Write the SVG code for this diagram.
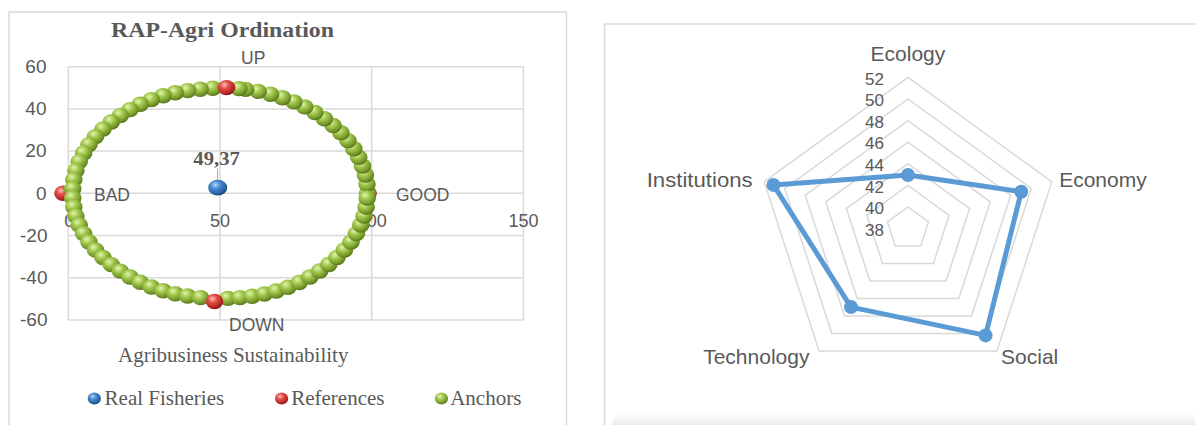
<svg xmlns="http://www.w3.org/2000/svg" xmlns:xlink="http://www.w3.org/1999/xlink" width="1195" height="425" viewBox="0 0 1195 425">
<style>
.frame{fill:#ffffff;stroke:#d9d9d9;stroke-width:1.5}
.grid{fill:none;stroke:#d9d9d9;stroke-width:1.5}
.ring{fill:none;stroke:#d9d9d9;stroke-width:1.5}
.sans{font-family:"Liberation Sans",Arial,sans-serif;fill:#595959}
.serif{font-family:"Liberation Serif","Times New Roman",serif;fill:#595959}
.ytick{font-size:19px;text-anchor:end}
.xtick{font-size:18px;text-anchor:middle}
.pole{font-size:17.5px}
.cat{font-size:21px}
.rtick{font-size:17px;text-anchor:end}
.series{fill:none;stroke:#5b9bd5;stroke-width:5;stroke-linejoin:round}
.dot{fill:#5b9bd5}
</style>
<defs>
<radialGradient id="gG" cx="0.38" cy="0.32" r="0.72">
<stop offset="0" stop-color="#e2f5b0"/>
<stop offset="0.35" stop-color="#a6cb52"/>
<stop offset="0.8" stop-color="#6f9427"/>
<stop offset="1" stop-color="#4e6c16"/>
</radialGradient>
<radialGradient id="gR" cx="0.38" cy="0.32" r="0.72">
<stop offset="0" stop-color="#ffc2b5"/>
<stop offset="0.35" stop-color="#e2504a"/>
<stop offset="0.8" stop-color="#b3221e"/>
<stop offset="1" stop-color="#7a1512"/>
</radialGradient>
<radialGradient id="gB" cx="0.38" cy="0.32" r="0.72">
<stop offset="0" stop-color="#b5d6f7"/>
<stop offset="0.35" stop-color="#4a8ad0"/>
<stop offset="0.8" stop-color="#24609f"/>
<stop offset="1" stop-color="#16406e"/>
</radialGradient>
<linearGradient id="shade" x1="0" y1="0" x2="0" y2="1">
<stop offset="0" stop-color="#ffffff"/>
<stop offset="1" stop-color="#ececec"/>
</linearGradient>
<ellipse id="ga" rx="8.8" ry="7.7" fill="url(#gG)"/>
<ellipse id="gr" rx="8.8" ry="7.7" fill="url(#gR)"/>
</defs>
<rect width="1195" height="425" fill="#ffffff"/>

<!-- LEFT: RAP-Agri Ordination scatter -->
<g id="ordination-chart">
<rect class="frame" x="9" y="12" width="557.5" height="430"/>
<text class="serif" x="111" y="37.3" font-size="22" font-weight="bold" textLength="223" lengthAdjust="spacingAndGlyphs">RAP-Agri Ordination</text>
<g id="grid">
<path class="grid" d="M68.3,66.7H523.4M68.3,108.9H523.4M68.3,151.1H523.4M68.3,193.3H523.4M68.3,235.5H523.4M68.3,277.7H523.4M68.3,319.9H523.4M68.3,66.7V319.9M220,66.7V319.9M371.7,66.7V319.9M523.4,66.7V319.9"/>
</g>
<g id="y-axis" class="sans ytick">
<text x="46.5" y="72.9">60</text>
<text x="46.5" y="115.1">40</text>
<text x="46.5" y="157.3">20</text>
<text x="46.5" y="199.5">0</text>
<text x="47.5" y="241.7">-20</text>
<text x="47.5" y="283.9">-40</text>
<text x="47.5" y="326.1">-60</text>
</g>
<g id="x-axis" class="sans xtick">
<text x="69.3" y="227">0</text>
<text x="220" y="227">50</text>
<text x="371.7" y="227">100</text>
<text x="523.4" y="227">150</text>
</g>
<g id="references-under">
<use href="#gr" x="63" y="193.3"/>
<use href="#gr" x="368" y="193.3"/>
</g>
<g id="anchors">
<use href="#ga" x="367.6" y="193.3"/><use href="#ga" x="367" y="184.1"/><use href="#ga" x="365.4" y="175"/><use href="#ga" x="362.5" y="166"/><use href="#ga" x="358.7" y="157.2"/><use href="#ga" x="353.8" y="148.7"/><use href="#ga" x="347.9" y="140.6"/><use href="#ga" x="340.9" y="132.8"/><use href="#ga" x="333.1" y="125.5"/><use href="#ga" x="324.4" y="118.7"/><use href="#ga" x="314.9" y="112.5"/><use href="#ga" x="304.7" y="106.9"/><use href="#ga" x="293.9" y="101.9"/><use href="#ga" x="282.4" y="97.7"/><use href="#ga" x="270.5" y="94.2"/><use href="#ga" x="258.2" y="91.4"/><use href="#ga" x="245.6" y="89.4"/><use href="#ga" x="239" y="88.6"/>
<use href="#ga" x="212.7" y="88.2"/><use href="#ga" x="200.1" y="89.2"/><use href="#ga" x="187.6" y="90.6"/><use href="#ga" x="175.2" y="92.8"/><use href="#ga" x="163.1" y="95.8"/><use href="#ga" x="151.4" y="99.6"/><use href="#ga" x="140.2" y="104.3"/><use href="#ga" x="130" y="109.6"/><use href="#ga" x="120.3" y="115.5"/><use href="#ga" x="111.2" y="122"/><use href="#ga" x="102.9" y="129.1"/><use href="#ga" x="95.5" y="136.6"/><use href="#ga" x="89" y="144.6"/><use href="#ga" x="83.6" y="153"/><use href="#ga" x="79.2" y="161.6"/><use href="#ga" x="75.9" y="170.5"/><use href="#ga" x="73.8" y="179.6"/><use href="#ga" x="72.7" y="188.7"/>
<use href="#ga" x="72.7" y="198"/><use href="#ga" x="73.8" y="207"/><use href="#ga" x="75.9" y="216.1"/><use href="#ga" x="79.2" y="225"/><use href="#ga" x="83.6" y="233.6"/><use href="#ga" x="89" y="242"/><use href="#ga" x="95.5" y="250"/><use href="#ga" x="102.9" y="257.5"/><use href="#ga" x="111.2" y="264.6"/><use href="#ga" x="120.3" y="271.1"/><use href="#ga" x="130" y="277"/><use href="#ga" x="140.2" y="282.3"/><use href="#ga" x="151.4" y="287"/><use href="#ga" x="163.1" y="290.8"/><use href="#ga" x="175.2" y="293.8"/><use href="#ga" x="187.6" y="296"/><use href="#ga" x="200.5" y="297.6"/>
<use href="#ga" x="227.8" y="298.4"/><use href="#ga" x="239.9" y="297.6"/><use href="#ga" x="252.1" y="296.2"/><use href="#ga" x="264.3" y="294"/><use href="#ga" x="276.2" y="291"/><use href="#ga" x="287.9" y="287.2"/><use href="#ga" x="299.2" y="282.5"/><use href="#ga" x="309.8" y="277"/><use href="#ga" x="319.7" y="271"/><use href="#ga" x="328.8" y="264.5"/><use href="#ga" x="337" y="257.5"/><use href="#ga" x="344.4" y="250"/><use href="#ga" x="351" y="242"/><use href="#ga" x="356.4" y="233.6"/><use href="#ga" x="360.7" y="225"/><use href="#ga" x="364" y="216.1"/><use href="#ga" x="366.1" y="207"/><use href="#ga" x="367.2" y="198"/>
</g>
<g id="references-over">
<use href="#gr" x="226.5" y="87.6"/>
<use href="#gr" x="214.5" y="301.5"/>
</g>
<g id="real-fisheries">
<line x1="217.6" y1="168.5" x2="217.6" y2="181" stroke="#a6a6a6" stroke-width="1"/>
<ellipse cx="217.7" cy="187.7" rx="9.5" ry="7.9" fill="url(#gB)"/>
<text class="serif" x="193.3" y="165" font-size="18" font-weight="bold" textLength="46.5" lengthAdjust="spacingAndGlyphs">49,37</text>
</g>
<g id="pole-labels" class="sans pole">
<text x="241" y="63.8">UP</text>
<text x="94" y="201.2">BAD</text>
<text x="396" y="200.7">GOOD</text>
<text x="229" y="330.7">DOWN</text>
</g>
<text class="serif" x="118" y="362.3" font-size="21">Agribusiness Sustainability</text>
<g id="legend" class="serif" font-size="21">
<ellipse cx="94.3" cy="398.6" rx="6.6" ry="6" fill="url(#gB)"/>
<text x="104.6" y="405">Real Fisheries</text>
<ellipse cx="281.6" cy="398.6" rx="6.6" ry="6" fill="url(#gR)"/>
<text x="291.2" y="405">References</text>
<ellipse cx="441.4" cy="398.6" rx="6.6" ry="6" fill="url(#gG)"/>
<text x="450.2" y="405">Anchors</text>
</g>
</g>

<!-- RIGHT: radar chart -->
<g id="radar-chart">
<path d="M1200,24H604.5V430" fill="#ffffff" stroke="#d9d9d9" stroke-width="1.5"/>
<path d="M611,425 Q614,413 626,412 H1195 V425 Z" fill="url(#shade)"/>
<g id="rings">
<polygon class="ring" points="908,207 928.5,221.9 920.7,246.1 895.3,246.1 887.5,221.9"/>
<polygon class="ring" points="908,185.4 949.1,215.3 933.4,263.5 882.6,263.5 866.9,215.3"/>
<polygon class="ring" points="908,163.8 969.6,208.6 946.1,281 869.9,281 846.4,208.6"/>
<polygon class="ring" points="908,142.2 990.2,201.9 958.8,298.5 857.2,298.5 825.8,201.9"/>
<polygon class="ring" points="908,120.6 1010.7,195.2 971.5,316 844.5,316 805.3,195.2"/>
<polygon class="ring" points="908,99 1031.3,188.6 984.2,333.4 831.8,333.4 784.7,188.6"/>
<polygon class="ring" points="908,77.4 1051.8,181.9 996.9,350.9 819.1,350.9 764.2,181.9"/>
</g>
<g id="radar-ticks" class="sans rtick">
<text x="884" y="84.5">52</text>
<text x="884" y="106.1">50</text>
<text x="884" y="127.7">48</text>
<text x="884" y="149.3">46</text>
<text x="884" y="170.9">44</text>
<text x="884" y="192.5">42</text>
<text x="884" y="214.1">40</text>
<text x="884" y="235.7">38</text>
</g>
<g id="categories" class="sans cat">
<text id="cat-ecology" x="870.6" y="61">Ecology</text>
<text id="cat-economy" x="1059.2" y="187">Economy</text>
<text id="cat-social" x="1001.1" y="364">Social</text>
<text id="cat-technology" x="703.2" y="364">Technology</text>
<text id="cat-institutions" x="646.7" y="187" textLength="106" lengthAdjust="spacingAndGlyphs">Institutions</text>
</g>
<g id="series">
<polygon class="series" points="908,175 1021.2,191.8 985.6,335.4 851,307.1 773.4,184.9"/>
<circle class="dot" cx="908" cy="175" r="7"/>
<circle class="dot" cx="1021.2" cy="191.8" r="7"/>
<circle class="dot" cx="985.6" cy="335.4" r="7"/>
<circle class="dot" cx="851" cy="307.1" r="7"/>
<circle class="dot" cx="773.4" cy="184.9" r="7"/>
</g>
</g>
</svg>
